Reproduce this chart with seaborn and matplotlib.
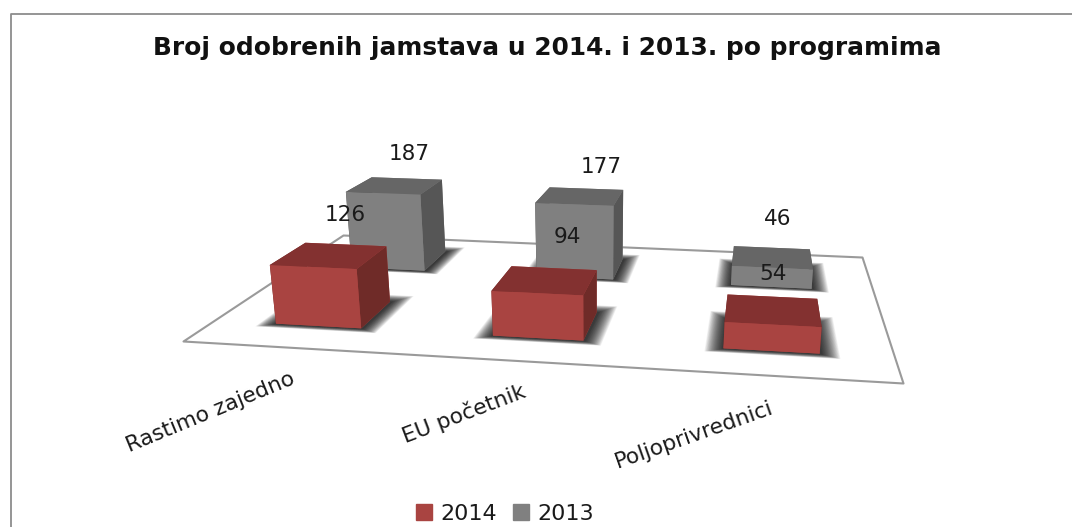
"""Broj odobrenih jamstava: 3D clustered bars seen through a fixed camera."""

import numpy as np
import matplotlib.pyplot as plt
from matplotlib.lines import Line2D
from matplotlib.patches import Patch
from mpl_toolkits.mplot3d.art3d import Poly3DCollection
import seaborn as sns

programs = ['Rastimo zajedno', 'EU početnik', 'Poljoprivrednici']
years = ['2014', '2013']
counts_2014 = [126, 94, 54]
counts_2013 = [187, 177, 46]

W, H = 1072, 527
FRONT = ['#A94441', '#833130', '#A94441', '#A94441', '#6F2B28', '#6F2B28']
BACK = ['#808080', '#666666', '#808080', '#808080', '#565656', '#565656']

sns.set_theme(style='white')
plt.rcParams['font.family'] = ['DejaVu Sans']
TEXT = '#1a1a1a'


def floor_homography(src, dst):
    """Solve the plane-to-image homography from four corners."""
    a, b = [], []
    for (x, y), (u, v) in zip(src, dst):
        a.append([x, y, 1, 0, 0, 0, -u * x, -u * y])
        a.append([0, 0, 0, x, y, 1, -v * x, -v * y])
        b += [u, v]
    return np.append(np.linalg.solve(np.array(a, float), b), 1).reshape(3, 3)


# camera: floor is 3 categories wide, 2 series deep
hom = floor_homography([(0, 0), (3, 0), (3, 2), (0, 2)],
                       [(183, H - 341), (903, H - 383), (862, H - 257), (343, H - 235)])
VANISH = 595, H - 3400
c = -1.36e-4 * (hom[2] @ [1.5, 1, 1])
cam = np.array([
    [hom[0, 0], hom[0, 1], c * VANISH[0], hom[0, 2]],
    [hom[1, 0], hom[1, 1], c * VANISH[1], hom[1, 2]],
    [0, 1, -0.002, 0],   # only used for sorting the faces
    [hom[2, 0], hom[2, 1], c, hom[2, 2]],
])

fig = plt.figure(figsize=(W / 100, H / 100), dpi=100)
ax = fig.add_axes([0, 0, 1, 1], projection='3d', computed_zorder=False)
ax.get_proj = lambda: cam
ax.apply_aspect = lambda position=None: None
ax.viewLim.intervalx = (0, W)
ax.viewLim.intervaly = (0, H)
ax.set_xticks([])
ax.set_yticks([])
ax.set_zticks([])
ax.set_axis_off()

floor = [(0, 0, 0), (3, 0, 0), (3, 2, 0), (0, 2, 0)]
ax.add_collection3d(Poly3DCollection([floor], facecolors=(1, 1, 1, 0), edgecolors='#9a9a9a',
                                     linewidths=1.5, zorder=1))

BAR_W = 0.40
rows = [
    # values, x offset, y start, depth, faces, zorder, label dx, label dz
    (counts_2013, 0.30, 1.30, 0.42, BACK, 3, [0.09, 0.11, 0.02], [80, 73, 94]),
    (counts_2014, 0.295, 0.30, 0.42, FRONT, 5, [0.09, 0.10, -0.005], [88, 93, 74]),
]
for vals, off, y0, depth, faces, zo, label_dx, label_dz in rows:
    for i, val in enumerate(vals):
        x0 = i + off
        # soft shadow on the floor
        for g in np.linspace(0.01, 0.10, 26):
            gx, gy = g * 0.8, g * 1.2
            rect = [(x0 - gx, y0 - gy * 0.4, 0), (x0 + BAR_W + gx, y0 - gy * 0.4, 0),
                    (x0 + BAR_W + gx, y0 + depth + gy, 0), (x0 - gx, y0 + depth + gy, 0)]
            ax.add_collection3d(Poly3DCollection([rect], facecolors=(0, 0, 0, 0.05),
                                                 linewidths=0, zorder=zo - 1))
        ax.bar3d(x0, y0, 0, BAR_W, depth, val, color=faces, shade=False,
                 linewidth=0, zorder=zo)
        ax.text(x0 + BAR_W / 2 + label_dx[i], y0 + depth / 2, val + label_dz[i], str(val),
                ha='center', va='center', fontsize=15.5, color=TEXT, zorder=10)

label_x = [0.48, 1.39, 2.225]
label_y = [-0.74, -0.60, -0.65]
for name, lx, ly in zip(programs, label_x, label_y):
    # Text3D takes its angle from the projected zdir vector
    ax.text(lx, ly, 0, name, zdir=(0.1, 0, 21.5), ha='center', va='center',
            fontsize=15.7, color=TEXT, zorder=10)

fig.text(547 / W, 1 - 48 / H, 'Broj odobrenih jamstava u 2014. i 2013. po programima',
         ha='center', va='center', fontsize=17.9, fontweight='bold', color='#111111')

handles = [Patch(color=FRONT[0]), Patch(color=BACK[0])]
fig.legend(handles, years, loc='center', bbox_to_anchor=(505 / W, 1 - 514 / H), ncol=2,
           frameon=False, fontsize=16, handlelength=0.72, handleheight=0.72,
           handletextpad=0.4, columnspacing=0.7, labelcolor=TEXT)

# chart frame, cut off by the screenshot on the right and at the bottom
fig.add_artist(Line2D([10.5 / W, 10.5 / W, 1], [0, 1 - 13.5 / H, 1 - 13.5 / H],
                      color='#8c8c8c', lw=1.3))

fig.savefig('out.png', dpi=100)
